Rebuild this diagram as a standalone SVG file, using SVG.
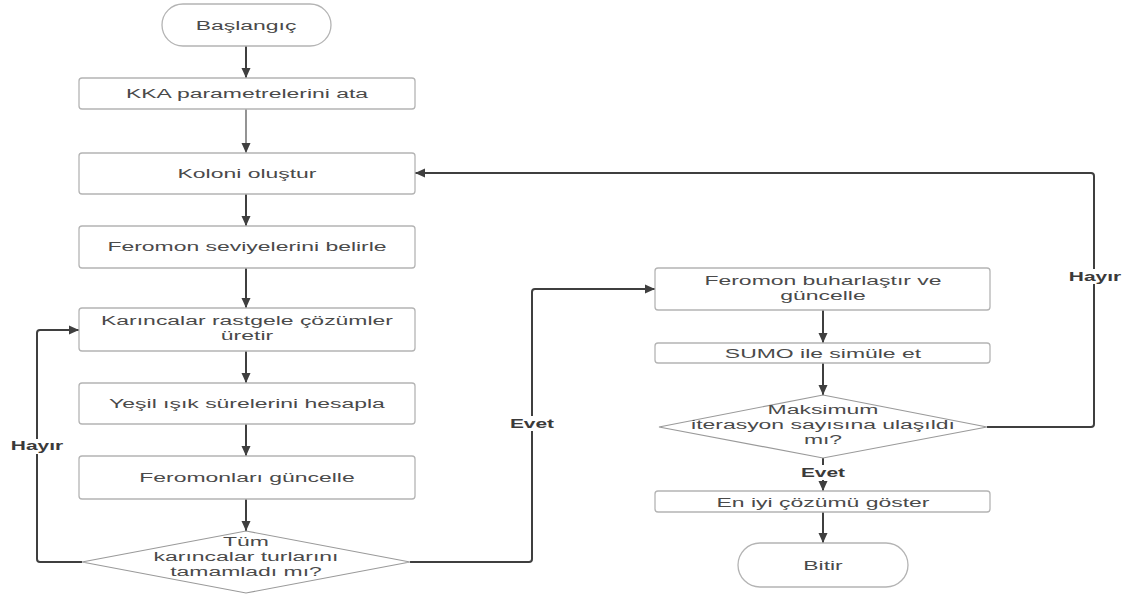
<svg xmlns="http://www.w3.org/2000/svg" width="1132" height="597" viewBox="0 0 1132 597">
<style>
.box{fill:#fff;stroke:#b4b4b4;stroke-width:1.3}
.dia{fill:#fff;stroke:#9a9a9a;stroke-width:1.2}
.t{font-family:"Liberation Sans",Arial,sans-serif;font-size:13.5px;fill:#4a4a4a;text-anchor:middle}
.lb{font-family:"Liberation Sans",Arial,sans-serif;font-size:13.5px;font-weight:bold;fill:#3a3a3a;text-anchor:middle}
.c{fill:none;stroke:#3f3f3f;stroke-width:2;stroke-linejoin:round}
.lbg{fill:#fff}
</style>
<defs>
<marker id="ah" viewBox="0 0 10 10" refX="10" refY="5" markerWidth="10" markerHeight="10" markerUnits="userSpaceOnUse" orient="auto">
<path d="M0,0.5 L10,5 L0,9.5 z" fill="#3f3f3f"/>
</marker>
</defs>
<rect width="1132" height="597" fill="#fff"/>

<g id="connectors">
<path class="c" d="M246,46 V78" marker-end="url(#ah)"/>
<path class="c" d="M246,109 V153" marker-end="url(#ah)" style="stroke-width:1.3;stroke:#5a5a5a"/>
<path class="c" d="M246,194 V226" marker-end="url(#ah)"/>
<path class="c" d="M246,268 V308" marker-end="url(#ah)"/>
<path class="c" d="M246,351 V383" marker-end="url(#ah)"/>
<path class="c" d="M246,424 V456" marker-end="url(#ah)"/>
<path class="c" d="M246,499 V531" marker-end="url(#ah)"/>
<path class="c" d="M82,562 H40 Q37,562 37,559 V333 Q37,330 40,330 H79" marker-end="url(#ah)"/>
<path class="c" d="M410,562 H529 Q532,562 532,559 V292 Q532,289 535,289 H655" marker-end="url(#ah)"/>
<path class="c" d="M823,310 V343" marker-end="url(#ah)"/>
<path class="c" d="M823,363 V395" marker-end="url(#ah)"/>
<path class="c" d="M987,427 H1091 Q1094,427 1094,424 V176 Q1094,173 1091,173 H415" marker-end="url(#ah)"/>
<path class="c" d="M823,458 V491" marker-end="url(#ah)"/>
<path class="c" d="M823,512 V543" marker-end="url(#ah)"/>
</g>

<g id="label-hayir-left">
<rect class="lbg" x="8" y="439" width="58" height="15"/>
<text class="lb" transform="translate(37,450) scale(1.55,1)">Hayır</text>
</g>
<g id="label-evet-left">
<rect class="lbg" x="506" y="416" width="54" height="15"/>
<text class="lb" transform="translate(532,428) scale(1.55,1)">Evet</text>
</g>
<g id="label-hayir-right">
<rect class="lbg" x="1066" y="269" width="58" height="15"/>
<text class="lb" transform="translate(1095,281) scale(1.55,1)">Hayır</text>
</g>
<g id="label-evet-bottom">
<rect class="lbg" x="797" y="465" width="52" height="15"/>
<text class="lb" transform="translate(823,477) scale(1.55,1)">Evet</text>
</g>

<g id="n-start">
<rect class="box" x="162" y="4" width="169" height="42" rx="21"/>
<text class="t" transform="translate(246,30) scale(1.7,1)">Başlangıç</text>
</g>
<g id="n-kka">
<rect class="box" x="79" y="78" width="336" height="31" rx="3"/>
<text class="t" transform="translate(247,98) scale(1.7,1)">KKA parametrelerini ata</text>
</g>
<g id="n-koloni">
<rect class="box" x="79" y="153" width="336" height="41" rx="3"/>
<text class="t" transform="translate(247,178) scale(1.7,1)">Koloni oluştur</text>
</g>
<g id="n-feromon-sev">
<rect class="box" x="79" y="226" width="336" height="42" rx="3"/>
<text class="t" transform="translate(247,251) scale(1.7,1)">Feromon seviyelerini belirle</text>
</g>
<g id="n-karincalar">
<rect class="box" x="79" y="308" width="336" height="43" rx="3"/>
<text class="t" transform="translate(247,325) scale(1.7,1)"><tspan x="0" y="0">Karıncalar rastgele çözümler</tspan><tspan x="0" y="15">üretir</tspan></text>
</g>
<g id="n-yesil">
<rect class="box" x="79" y="383" width="336" height="41" rx="3"/>
<text class="t" transform="translate(247,408) scale(1.7,1)">Yeşil ışık sürelerini hesapla</text>
</g>
<g id="n-feromon-gunc">
<rect class="box" x="79" y="456" width="336" height="43" rx="3"/>
<text class="t" transform="translate(247,482) scale(1.7,1)">Feromonları güncelle</text>
</g>
<g id="n-tum">
<polygon class="dia" points="246,531 410,562 246,593 82,562"/>
<text class="t" transform="translate(246,546) scale(1.7,1)"><tspan x="0" y="0">Tüm</tspan><tspan x="0" y="15">karıncalar turlarını</tspan><tspan x="0" y="30">tamamladı mı?</tspan></text>
</g>
<g id="n-buhar">
<rect class="box" x="655" y="268" width="335" height="42" rx="3"/>
<text class="t" transform="translate(823,285) scale(1.7,1)"><tspan x="0" y="0">Feromon buharlaştır ve</tspan><tspan x="0" y="15">güncelle</tspan></text>
</g>
<g id="n-sumo">
<rect class="box" x="655" y="343" width="335" height="20" rx="3"/>
<text class="t" transform="translate(823,358) scale(1.7,1)">SUMO ile simüle et</text>
</g>
<g id="n-maks">
<polygon class="dia" points="823,395 987,427 823,458 659,427"/>
<text class="t" transform="translate(823,414) scale(1.7,1)"><tspan x="0" y="0">Maksimum</tspan><tspan x="0" y="15">iterasyon sayısına ulaşıldı</tspan><tspan x="0" y="30">mı?</tspan></text>
</g>
<g id="n-eniyi">
<rect class="box" x="655" y="491" width="335" height="21" rx="3"/>
<text class="t" transform="translate(823,507) scale(1.7,1)">En iyi çözümü göster</text>
</g>
<g id="n-bitir">
<rect class="box" x="738" y="543" width="170" height="44" rx="22"/>
<text class="t" transform="translate(823,570) scale(1.7,1)">Bitir</text>
</g>
</svg>
